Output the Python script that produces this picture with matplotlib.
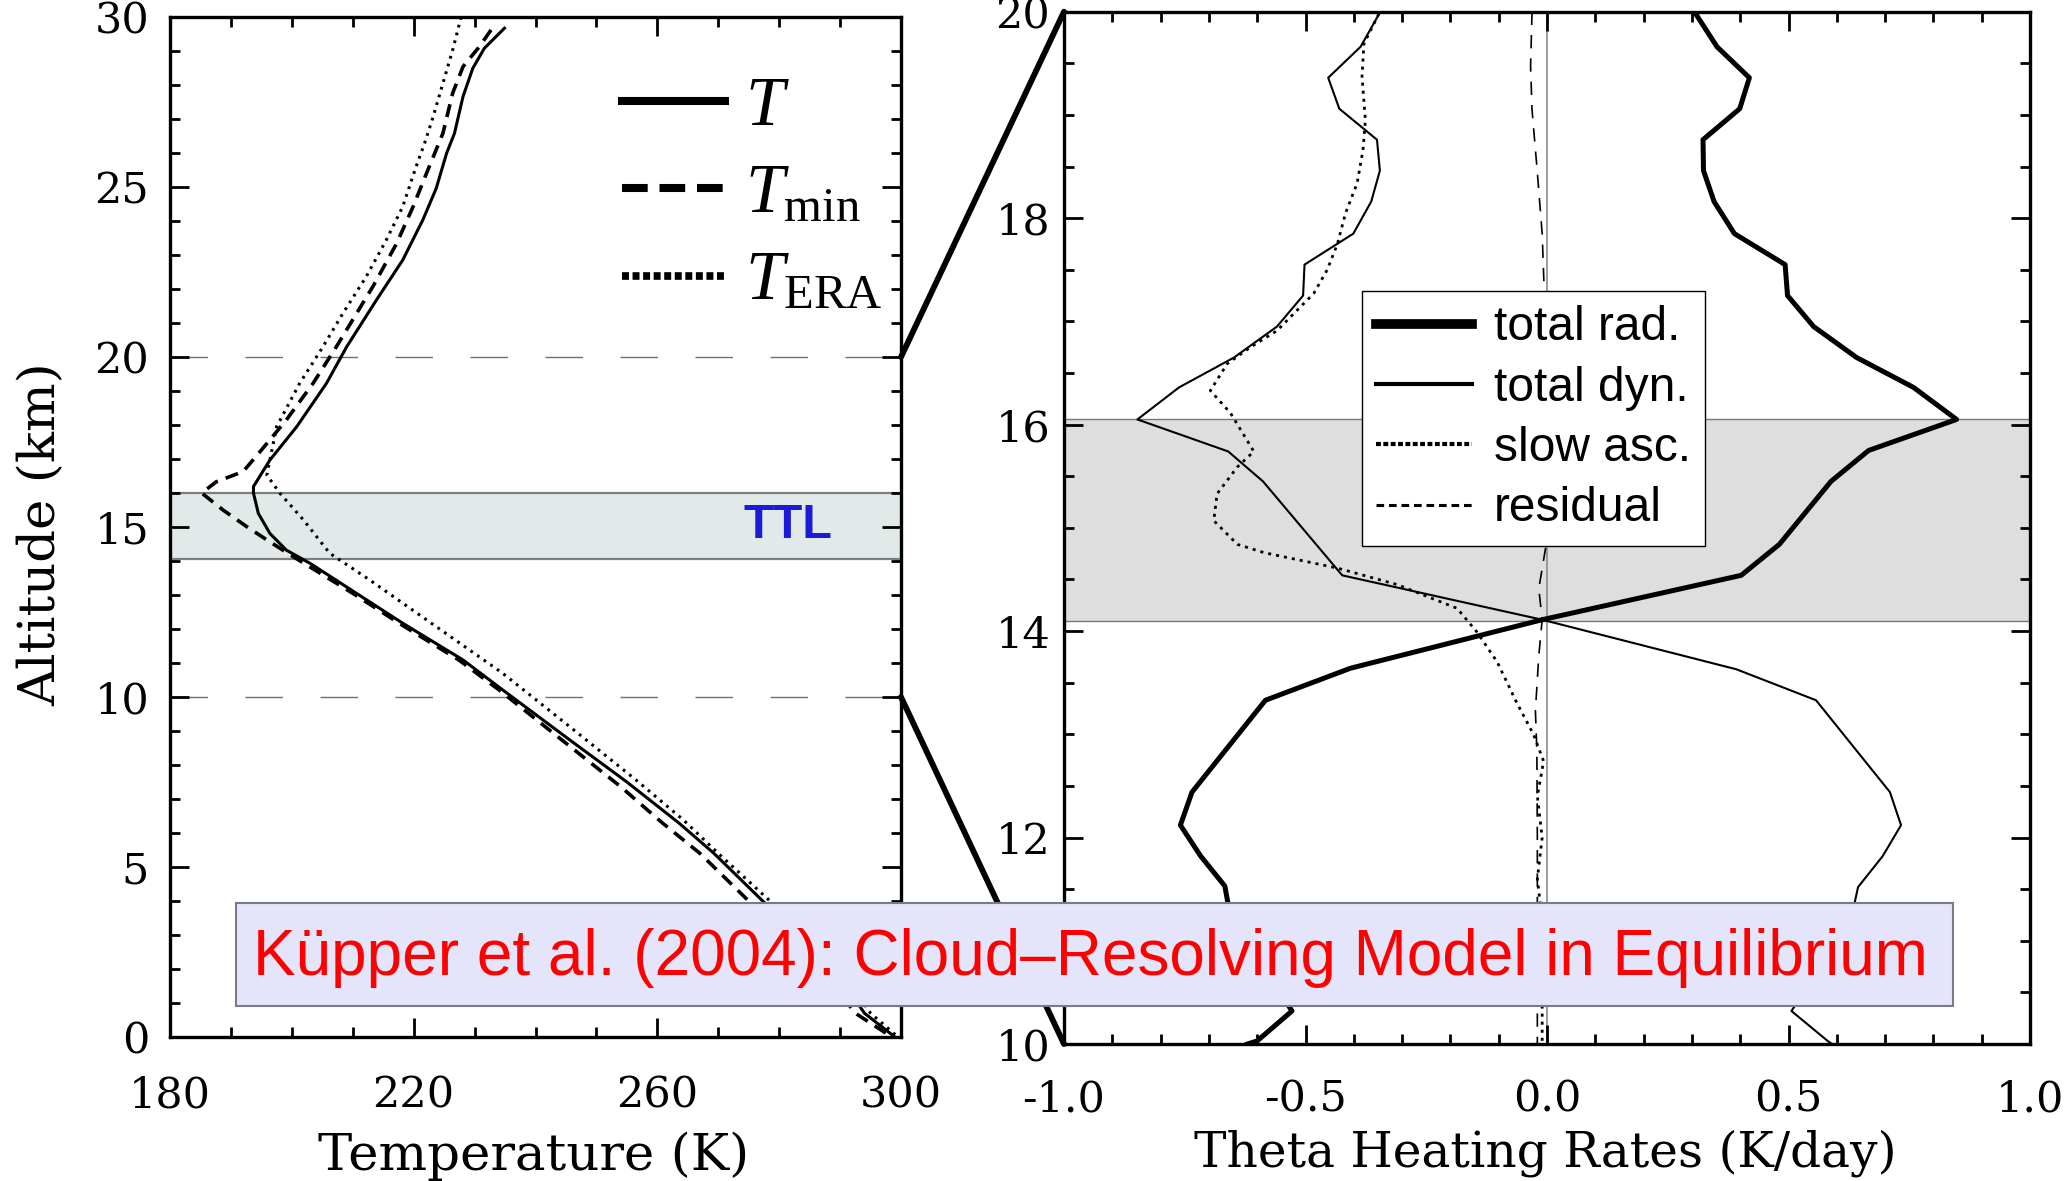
import matplotlib
matplotlib.use("Agg")
import matplotlib.pyplot as plt
from matplotlib.patches import ConnectionPatch, Rectangle
from matplotlib.ticker import MultipleLocator, FormatStrFormatter

plt.rcParams['font.family'] = ['DejaVu Serif']
plt.rcParams['lines.scale_dashes'] = False
plt.rcParams['mathtext.fontset'] = 'custom'
plt.rcParams['mathtext.rm'] = 'Liberation Serif'
plt.rcParams['mathtext.it'] = 'Liberation Serif:italic'

# ---- left panel: temperature profiles, altitude (km) vs temperature (K) ----
z_T = [29.67, 29.08, 28.49, 27.66, 26.58, 25.99, 24.96, 24.03, 22.85, 21.68,
       20.30, 19.23, 17.95, 16.97, 16.19, 16.0, 15.40, 14.81, 14.32, 13.93,
       13.05, 12.17, 11.09, 10.21, 8.74, 7.5, 6.3, 5.4, 4.0, 2.0, 0.7, 0.0]
T = [234.9, 231.6, 229.7, 228.1, 226.7, 225.4, 223.7, 221.5, 218.2, 213.9,
     209.0, 205.7, 200.8, 196.4, 193.7, 193.7, 194.5, 196.4, 199.1, 203.0,
     210.6, 218.2, 228.1, 234.6, 245.6, 255.0, 263.5, 269.3, 277.3, 289.0,
     294.0, 299.0]

z_Tmin = [29.62, 29.13, 28.54, 27.76, 26.58, 25.40, 24.42, 23.34, 22.07, 20.30,
          19.23, 18.15, 17.22, 16.63, 16.33, 16.0, 15.50, 15.01, 14.62, 14.13,
          13.05, 12.17, 11.09, 10.21, 8.74, 7.36, 6.3, 5.4, 4.0, 2.0, 0.7, 0.0]
T_min = [232.7, 230.8, 228.1, 226.4, 224.8, 222.1, 219.9, 217.2, 213.3, 207.3,
         203.5, 199.1, 194.8, 192.0, 187.6, 185.2, 188.7, 192.6, 195.9, 200.2,
         210.0, 217.6, 227.4, 234.0, 244.3, 254.0, 260.8, 267.0, 275.0, 287.0,
         292.5, 298.5]

z_era = [30.0, 29.03, 28.05, 27.07, 26.29, 25.60, 24.42, 23.44, 22.36, 21.29,
         20.30, 19.23, 17.95, 16.53, 16.0, 15.21, 14.23, 13.44, 12.07, 10.70,
         9.13, 7.56, 6.38, 5.4, 4.0, 2.0, 0.7, 0.0]
T_era = [227.8, 226.4, 224.8, 223.2, 221.8, 220.4, 218.2, 215.5, 212.2, 208.4,
         205.1, 201.3, 197.5, 195.9, 198.0, 201.9, 206.2, 212.8, 223.7, 234.6,
         245.6, 256.5, 264.3, 270.0, 278.5, 290.0, 295.0, 299.5]

ttl_bottom, ttl_top = 14.05, 16.0
zoom_levels = [10, 20]

# ---- right panel: theta heating rates (K/day) between 10 and 20 km ----
z_rad = [20.0, 19.66, 19.36, 19.06, 18.76, 18.46, 18.16, 17.85, 17.55, 17.25,
         16.95, 16.65, 16.36, 16.05, 15.75, 15.45, 14.84, 14.54, 14.11, 13.64,
         13.33, 12.44, 12.12, 11.82, 11.53, 11.22, 10.92, 10.62, 10.32, 10.03, 10.0]
q_rad = [0.305, 0.352, 0.419, 0.399, 0.323, 0.324, 0.346, 0.388, 0.493, 0.498,
         0.552, 0.641, 0.759, 0.848, 0.666, 0.588, 0.481, 0.402, -0.01, -0.407,
         -0.583, -0.735, -0.759, -0.717, -0.667, -0.655, -0.62, -0.57, -0.528,
         -0.600, -0.62]

z_dyn = [20.0, 19.66, 19.36, 19.06, 18.76, 18.46, 18.16, 17.85, 17.55, 17.25,
         16.95, 16.65, 16.36, 16.05, 15.74, 15.45, 14.54, 14.11, 13.63, 13.33,
         12.44, 12.12, 11.82, 11.52, 11.22, 10.92, 10.62, 10.32, 10.03, 10.0]
q_dyn = [-0.345, -0.386, -0.453, -0.430, -0.352, -0.346, -0.364, -0.401, -0.502,
         -0.505, -0.559, -0.648, -0.762, -0.848, -0.660, -0.588, -0.424, -0.01,
         0.392, 0.557, 0.710, 0.733, 0.695, 0.644, 0.63, 0.60, 0.55, 0.506,
         0.581, 0.59]

z_slow = [19.98, 19.69, 19.37, 18.95, 18.66, 18.34, 18.05, 17.75, 17.50, 17.27,
          17.11, 16.91, 16.75, 16.59, 16.33, 16.11, 15.74, 15.59, 15.33, 15.07,
          14.84, 14.76, 14.61, 14.45, 14.22, 13.99, 13.70, 13.30, 13.00, 12.74,
          12.4, 12.0, 11.6, 11.2, 10.8, 10.4, 10.0]
q_slow = [-0.348, -0.379, -0.383, -0.376, -0.381, -0.393, -0.417, -0.434, -0.455,
          -0.483, -0.517, -0.559, -0.614, -0.662, -0.697, -0.655, -0.607, -0.641,
          -0.683, -0.690, -0.641, -0.586, -0.434, -0.310, -0.186, -0.145, -0.103,
          -0.062, -0.028, -0.007, -0.02, -0.01, -0.02, -0.01, -0.02, -0.01, -0.01]

z_res = [20.0, 19.47, 19.05, 18.5, 17.85, 17.33, 16.5, 15.5, 14.86, 14.41,
         14.11, 13.76, 13.23, 12.84, 12.0, 11.0, 10.0]
q_res = [-0.031, -0.034, -0.031, -0.021, -0.010, -0.006, -0.002, 0.0, -0.001,
         -0.017, -0.01, -0.017, -0.024, -0.021, -0.02, -0.02, -0.02]

rad_bottom, rad_top = 14.1, 16.05

caption = "Küpper et al. (2004): Cloud\u2013Resolving Model in Equilibrium"

fig = plt.figure(figsize=(20.69, 11.81), dpi=100)
ax1 = fig.add_axes([0.08217, 0.12193, 0.35331, 0.86368])
ax2 = fig.add_axes([0.51426, 0.11600, 0.46689, 0.87410])


def style_axes(ax, tick_pad_x, tick_pad_y):
    for sp in ax.spines.values():
        sp.set_linewidth(2.4)
    ax.tick_params(which='both', direction='in', top=True, right=True,
                   width=2.0, labelsize=31)
    ax.tick_params(which='major', length=14)
    ax.tick_params(which='minor', length=7)
    ax.tick_params(axis='x', pad=tick_pad_x)
    ax.tick_params(axis='y', pad=tick_pad_y)


# left panel
ax1.axhspan(ttl_bottom, ttl_top, facecolor='#e1e9e9', edgecolor='none', zorder=0.5)
for z in (ttl_bottom, ttl_top):
    ax1.axhline(z, color='#7a8080', lw=1.6, zorder=0.6)
for z in zoom_levels:
    ax1.axhline(z, color='#707070', lw=1.0, dashes=(27, 27), zorder=0.7)

l_T, = ax1.plot(T, z_T, color='k', lw=2.2, label=r'$T$')
l_Tmin, = ax1.plot(T_min, z_Tmin, color='k', lw=2.6, dashes=(9.5, 6),
                   label=r'$T_{\mathrm{min}}$')
l_era, = ax1.plot(T_era, z_era, color='k', lw=2.2, dashes=(2, 3.8),
                  label=r'$T_{\mathrm{ERA}}$')

ax1.text(281.5, 15.03, 'TTL', color='#1c1cd8', fontsize=35, fontweight='bold',
         family='Liberation Sans', ha='center', va='center')

ax1.set_xlim(180, 300)
ax1.set_ylim(0, 30)
ax1.xaxis.set_major_locator(MultipleLocator(40, offset=20))
ax1.xaxis.set_minor_locator(MultipleLocator(10))
ax1.yaxis.set_major_locator(MultipleLocator(5))
ax1.yaxis.set_minor_locator(MultipleLocator(1))
style_axes(ax1, 27, 15)
ax1.set_xlabel('Temperature (K)', fontsize=37)
ax1.set_ylabel('Altitude (km)', fontsize=37)
ax1.xaxis.set_label_coords(0.498, -0.093)
ax1.yaxis.set_label_coords(-0.142, 0.493)

leg1 = ax1.legend(handles=[l_T, l_Tmin, l_era], loc='upper left',
                  bbox_to_anchor=(0.618, 0.945), borderaxespad=0, borderpad=0,
                  frameon=False, fontsize=50, handlelength=1.48,
                  handletextpad=0.3, labelspacing=0.3)
h_T, h_Tmin, h_era = leg1.legend_handles
h_T.set_linewidth(5.8)
h_Tmin.set_linewidth(5.8)
h_Tmin.set_dashes((18.5, 8.5))
h_era.set_linewidth(5.5)
h_era.set_dashes((5, 2.6))

# right panel
ax2.axhspan(rad_bottom, rad_top, facecolor='#dedede', edgecolor='none', zorder=0.5)
for z in (rad_bottom, rad_top):
    ax2.axhline(z, color='#777777', lw=1.0, zorder=0.6)
ax2.axvline(0, color='#8a8a8a', lw=1.2, zorder=0.7)

l_rad, = ax2.plot(q_rad, z_rad, color='k', lw=3.6, label='total rad.')
l_dyn, = ax2.plot(q_dyn, z_dyn, color='k', lw=1.5, label='total dyn.')
l_slow, = ax2.plot(q_slow, z_slow, color='k', lw=2.0, dashes=(2.2, 3.6),
                   label='slow asc.')
l_res, = ax2.plot(q_res, z_res, color='k', lw=1.2, dashes=(9.6, 7.2),
                  label='residual')

ax2.set_xlim(-1, 1)
ax2.set_ylim(10, 20)
ax2.xaxis.set_major_locator(MultipleLocator(0.5))
ax2.xaxis.set_minor_locator(MultipleLocator(0.1))
ax2.xaxis.set_major_formatter(FormatStrFormatter('%.1f'))
ax2.yaxis.set_major_locator(MultipleLocator(2))
ax2.yaxis.set_minor_locator(MultipleLocator(0.5))
style_axes(ax2, 25, 10)
ax2.set_xlabel('Theta Heating Rates (K/day)', fontsize=35)
ax2.xaxis.set_label_coords(0.498, -0.083)

leg2 = ax2.legend(handles=[l_rad, l_dyn, l_slow, l_res], loc='upper left',
                  bbox_to_anchor=(0.3085, 0.7295), borderaxespad=0,
                  borderpad=0.3, handlelength=2.0,
                  handletextpad=0.45, labelspacing=0.32, fancybox=False,
                  framealpha=1, edgecolor='k',
                  prop={'family': 'Liberation Sans', 'size': 34.5})
leg2.get_frame().set_linewidth(1.0)
g_rad, g_dyn, g_slow, g_res = leg2.legend_handles
g_rad.set_linewidth(7.0)
g_dyn.set_linewidth(3.0)
g_slow.set_linewidth(3.0)
g_slow.set_dashes((3.5, 1.8))
g_res.set_linewidth(2.2)
g_res.set_dashes((5.5, 3.5))

# thick lines joining the 10-20 km slice of the left panel to the right panel
for z in zoom_levels:
    con = ConnectionPatch(xyA=(300, z), coordsA=ax1.transData,
                          xyB=(-1.0, z), coordsB=ax2.transData,
                          color='k', lw=4.2, zorder=3)
    con.set_clip_on(False)
    fig.add_artist(con)

# caption box
box = Rectangle((0.1143, 0.1486), 0.8296, 0.0868, transform=fig.transFigure,
                facecolor='#e4e4fa', edgecolor='#7a7a88', lw=1.5, zorder=5)
fig.add_artist(box)
fig.text(0.1223, 0.1744, caption, color='#ff0000', fontsize=46,
         family='Liberation Sans', ha='left', va='baseline', zorder=6)

fig.savefig('out.png', dpi=100, facecolor='white')
